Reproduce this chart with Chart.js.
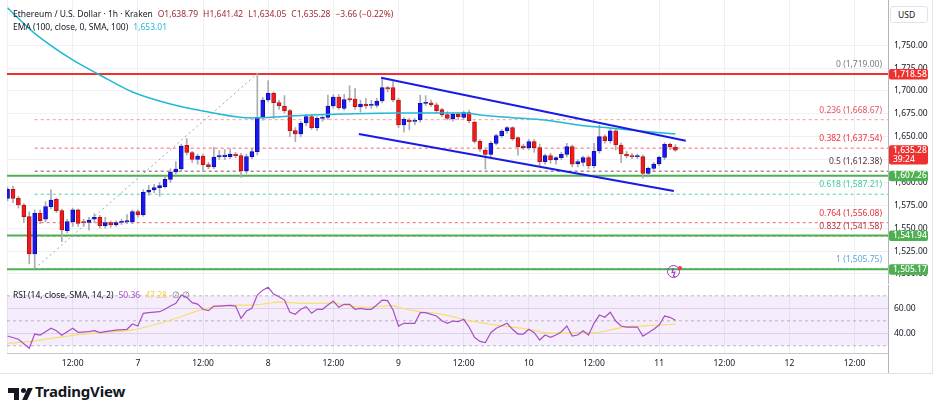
<!DOCTYPE html>
<html>
<head>
<meta charset="utf-8">
<script src="https://cdn.jsdelivr.net/npm/chart.js@4.4.0/dist/chart.umd.min.js"></script>
<style>
  body { margin: 0; background: #fff; width: 940px; height: 400px; overflow: hidden; font-family: "Noto Sans", sans-serif; }
  #wrap { position: relative; width: 940px; height: 400px; }
  canvas { position: absolute; left: 0; }
  #main { top: 0; }
  #rsi { top: 284px; }
  .lg { position: absolute; left: 13px; font-size: 8.5px; line-height: 12px; color: #131722; white-space: nowrap; }
  .lg span { margin-left: 5px; }
  .red { color: #a32a35; }
  #usd { position: absolute; left: 890px; top: 6px; width: 38px; height: 17px; box-sizing: border-box; border: 1px solid #e0e3eb; border-radius: 3px; font-size: 8.5px; line-height: 15px; padding-left: 7px; color: #131722; background: #fff; }
  #bolt { position: absolute; left: 667px; top: 265px; width: 11px; height: 11px; border: 1.3px solid #a23bc2; border-radius: 50%; color: #a23bc2; font-size: 9px; line-height: 11px; text-align: center; font-weight: 700; }
  #boltDot { position: absolute; left: 678px; top: 266px; width: 4px; height: 4px; border-radius: 50%; background: #f23645; }
  .frame { position: absolute; background: #e0e3eb; }
  #logo { position: absolute; left: 35px; top: 381px; font-size: 15px; font-weight: 700; color: #131722; letter-spacing: -0.2px; }
  .lp { position: absolute; background: #131722; }
</style>
</head>
<body>
<div id="wrap">
  <canvas id="main" width="940" height="284"></canvas>
  <canvas id="rsi" width="940" height="90"></canvas>
  <div id="head1" class="lg" style="top:8px"></div>
  <div id="head2" class="lg" style="top:21px"></div>
  <div id="head3" class="lg" style="top:289px"></div>
  <div id="usd">USD</div>
  <div id="bolt">ϟ</div>
  <div id="boltDot"></div>
  <div class="frame" style="left:888px;top:353px;width:1px;height:20px;background:#b2b5be"></div>
  <div class="frame" style="left:932px;top:0;width:1px;height:374px"></div>
  <div class="frame" style="left:0;top:373px;width:933px;height:1px"></div>
  <div class="lp" style="left:8px;top:388px;width:11px;height:5px"></div>
  <div class="lp" style="left:14px;top:388px;width:5px;height:12px"></div>
  <div class="lp" style="left:21px;top:388px;width:5px;height:5px;border-radius:50%"></div>
  <div class="lp" style="left:25px;top:388px;width:5px;height:12px;transform:skewX(-25deg)"></div>
  <div id="logo">TradingView</div>
</div>
<script>
// hourly candles, hour 0 = day 6 00:00
const opens = [
  1582.7, 1592.5, 1582.7, 1575.4, 1562.7, 1521.9, 1566.3, 1559.8, 1573.6, 1581.6,
  1569.2, 1547.4, 1557.2, 1570.0, 1556.5, 1556.5, 1559.8, 1561.9, 1552.8, 1556.1,
  1553.6, 1556.5, 1556.8, 1556.8, 1568.1, 1564.5, 1589.3, 1591.8, 1594.4, 1595.4,
  1603.5, 1611.5, 1614.8, 1640.6, 1632.6, 1625.3, 1628.9, 1619.5, 1617.0, 1627.9,
  1628.2, 1628.2, 1631.1, 1629.3, 1613.0, 1628.2, 1633.7, 1671.2, 1690.2, 1697.4,
  1687.3, 1683.6, 1678.5, 1656.7, 1653.0, 1665.0, 1672.0, 1660.0, 1670.0, 1671.0,
  1683.6, 1693.4, 1681.0, 1691.3, 1691.3, 1682.5, 1685.8, 1684.3, 1684.3, 1689.1,
  1703.6, 1703.6, 1690.2, 1662.8, 1668.3, 1666.8, 1668.3, 1686.5, 1687.2, 1685.0,
  1679.6, 1674.1, 1669.4, 1674.5, 1671.2, 1676.3, 1666.1, 1645.0, 1635.5, 1630.8,
  1642.8, 1651.2, 1656.3, 1659.9, 1649.0, 1639.9, 1638.1, 1644.6, 1638.1, 1622.8,
  1629.3, 1624.6, 1627.1, 1630.8, 1639.2, 1620.2, 1622.0, 1627.1, 1618.4, 1634.4,
  1650.1, 1645.7, 1656.6, 1641.0, 1631.1, 1629.3, 1628.2, 1628.2, 1610.0, 1615.5,
  1620.2, 1627.5, 1641.7, 1638.79
];
const highs = [
  1595.0, 1596.2, 1585.0, 1577.0, 1568.0, 1570.0, 1570.0, 1579.0, 1592.0, 1583.0,
  1571.0, 1560.0, 1572.0, 1571.0, 1560.0, 1562.0, 1566.0, 1564.0, 1562.0, 1558.0,
  1558.0, 1560.0, 1565.0, 1570.0, 1570.0, 1592.0, 1597.0, 1598.0, 1600.0, 1606.0,
  1615.0, 1622.8, 1642.0, 1648.0, 1634.0, 1631.0, 1631.0, 1622.0, 1638.4, 1635.0,
  1636.0, 1637.0, 1633.0, 1632.0, 1631.0, 1637.0, 1719.0, 1693.0, 1711.3, 1699.0,
  1690.0, 1695.0, 1680.0, 1660.0, 1667.0, 1674.5, 1674.0, 1672.0, 1673.0, 1695.6,
  1696.0, 1696.0, 1696.4, 1705.8, 1702.9, 1690.0, 1692.0, 1690.0, 1692.0, 1714.6,
  1705.0, 1710.2, 1692.0, 1671.0, 1670.0, 1670.0, 1695.6, 1694.9, 1690.2, 1687.0,
  1681.0, 1677.4, 1676.0, 1676.0, 1678.0, 1679.2, 1667.0, 1647.0, 1637.0, 1645.0,
  1653.0, 1658.0, 1661.0, 1661.0, 1650.0, 1642.0, 1647.0, 1647.0, 1642.0, 1631.0,
  1632.0, 1628.0, 1633.0, 1642.8, 1641.0, 1625.0, 1629.0, 1629.0, 1642.8, 1662.8,
  1652.0, 1659.2, 1659.0, 1643.0, 1634.0, 1632.0, 1631.0, 1630.0, 1617.0, 1622.0,
  1629.0, 1643.5, 1643.0, 1641.42
];
const lows = [
  1580.0, 1578.0, 1572.0, 1556.0, 1511.0, 1505.75, 1555.0, 1557.0, 1571.0, 1567.0,
  1535.3, 1545.0, 1552.0, 1552.0, 1552.0, 1548.0, 1556.0, 1550.0, 1550.0, 1551.0,
  1552.0, 1554.0, 1555.0, 1555.0, 1562.0, 1563.0, 1586.0, 1589.0, 1585.0, 1594.0,
  1600.0, 1609.0, 1612.0, 1630.0, 1622.0, 1620.0, 1612.0, 1615.0, 1615.0, 1625.0,
  1625.0, 1626.0, 1627.0, 1605.6, 1610.0, 1626.0, 1630.0, 1668.0, 1688.0, 1670.0,
  1680.0, 1676.0, 1650.0, 1644.6, 1650.0, 1662.0, 1658.0, 1657.0, 1667.0, 1669.0,
  1681.0, 1680.0, 1679.0, 1688.0, 1680.0, 1677.0, 1681.0, 1681.0, 1682.0, 1687.0,
  1699.0, 1688.0, 1660.0, 1655.0, 1657.4, 1663.0, 1666.0, 1684.0, 1683.0, 1676.0,
  1672.0, 1668.3, 1667.0, 1669.0, 1669.0, 1665.0, 1643.0, 1634.0, 1614.5, 1628.0,
  1641.0, 1649.0, 1654.0, 1646.0, 1630.0, 1636.0, 1636.0, 1633.0, 1618.0, 1620.0,
  1621.0, 1620.0, 1625.0, 1628.0, 1617.0, 1617.0, 1618.0, 1615.0, 1616.0, 1632.0,
  1643.0, 1643.0, 1635.5, 1621.6, 1627.0, 1626.0, 1626.0, 1604.6, 1606.0, 1613.0,
  1618.0, 1625.0, 1636.0, 1634.05
];
const closes = [
  1592.5, 1582.7, 1575.4, 1562.7, 1521.9, 1566.3, 1558.3, 1573.6, 1580.9, 1569.2,
  1548.1, 1557.2, 1570.0, 1555.4, 1556.2, 1559.0, 1561.9, 1552.8, 1556.1, 1553.6,
  1556.1, 1557.0, 1558.3, 1568.1, 1564.5, 1589.3, 1591.8, 1594.4, 1596.5, 1603.5,
  1611.5, 1614.8, 1639.9, 1633.0, 1625.3, 1628.9, 1619.5, 1617.3, 1627.9, 1629.3,
  1630.0, 1631.1, 1629.3, 1613.0, 1628.2, 1633.7, 1671.2, 1690.2, 1697.4, 1687.3,
  1683.6, 1678.5, 1656.7, 1653.0, 1664.7, 1672.0, 1660.0, 1670.1, 1671.0, 1683.6,
  1693.4, 1681.8, 1690.5, 1690.5, 1682.9, 1685.8, 1683.6, 1684.3, 1689.1, 1703.6,
  1702.2, 1690.2, 1662.8, 1669.0, 1666.5, 1667.5, 1686.5, 1687.2, 1685.1, 1678.5,
  1674.1, 1670.1, 1674.5, 1671.9, 1676.3, 1667.6, 1645.0, 1636.3, 1630.8, 1642.8,
  1651.2, 1656.3, 1659.9, 1647.5, 1638.8, 1638.1, 1644.6, 1638.1, 1622.8, 1629.3,
  1624.6, 1627.1, 1630.8, 1639.2, 1619.9, 1622.8, 1627.1, 1618.4, 1634.4, 1650.1,
  1645.7, 1656.6, 1641.0, 1631.1, 1629.0, 1628.2, 1629.3, 1610.0, 1615.5, 1620.2,
  1627.5, 1641.7, 1638.94, 1635.28
];

// EMA(100)
const emaHours = [0, 1, 5, 12, 17, 23, 30, 37, 45, 48, 50, 56, 62, 72, 84, 87, 93, 99, 105, 111, 118, 123];
const emaValues = [1791, 1785, 1763, 1733.9, 1717.5, 1698.9, 1685.8, 1677.0, 1670.5, 1671.0, 1671.9,
  1673.8, 1674.9, 1676.0, 1676.0, 1673.8, 1670.8, 1668.3, 1662.8, 1659.6, 1655.5, 1653.01];

// RSI(14) and its SMA(14)
const rsiHours = [0, 2, 4, 5, 6, 7, 8, 9, 10, 11, 12, 13, 15, 16, 17, 18, 20, 22, 23, 24, 25, 26, 28, 29, 30,
  31, 32, 33, 34, 35, 36, 37, 38, 39, 41, 42, 43, 44, 45, 46, 47, 48, 49, 50, 51, 52, 53, 54, 55, 56,
  57, 58, 59, 60, 61, 62, 63, 64, 65, 66, 67, 68, 69, 70, 71, 72, 73, 75, 76, 77, 79, 80, 81, 82, 83,
  84, 85, 86, 87, 88, 89, 90, 92, 93, 94, 95, 96, 97, 98, 99, 100, 101, 102, 103, 104, 105, 106, 107,
  108, 109, 110, 111, 112, 113, 114, 116, 117, 118, 119, 120, 121, 122, 123];
const rsiValues = [37.8, 35.2, 28.0, 39.4, 38.6, 41.3, 44.0, 42.1, 38.4, 41.3, 44.0, 40.8, 41.3, 42.1,
  40.5, 41.3, 42.6, 43.2, 47.4, 45.8, 56.0, 56.5, 57.3, 59.2, 61.8, 64.0, 70.6, 68.8, 64.5, 63.4, 59.2,
  58.1, 61.8, 61.8, 62.4, 61.8, 52.0, 57.8, 60.0, 70.6, 74.5, 76.8, 71.4, 69.3, 66.6, 56.8, 55.2, 59.2,
  61.3, 56.0, 59.2, 59.2, 62.6, 65.8, 60.8, 63.2, 63.2, 59.2, 60.0, 59.2, 59.2, 62.6, 66.6, 66.1, 58.6,
  45.8, 48.0, 48.0, 56.5, 56.5, 53.8, 50.1, 48.0, 49.8, 49.3, 51.2, 45.0, 36.8, 33.5, 32.5, 40.5, 44.0,
  48.0, 43.2, 39.4, 39.4, 43.2, 40.5, 34.6, 38.6, 36.8, 38.6, 41.3, 45.8, 37.8, 38.6, 42.1, 38.6, 48.0,
  54.6, 52.8, 56.8, 49.8, 45.8, 45.0, 45.0, 37.8, 40.5, 43.2, 46.6, 53.8, 52.8, 50.36];
const smaHours = [0, 4, 8, 11, 17, 23, 28, 31, 36, 39, 42, 45, 48, 50, 54, 60, 63, 66, 71, 72, 76, 79,
  82, 85, 90, 96, 99, 102, 105, 108, 111, 114, 117, 120, 123];
const smaValues = [32.0, 33.3, 36.0, 37.8, 40.5, 42.6, 48.0, 52.0, 59.2, 61.8, 62.6, 62.6, 64.0, 65.0,
  64.0, 64.0, 61.8, 60.8, 62.1, 60.8, 57.3, 56.0, 53.3, 50.1, 46.6, 43.2, 40.5, 40.0, 40.8, 40.5, 42.6,
  45.3, 45.8, 46.6, 47.28];

// drawings
const fibRatios = [0, 0.236, 0.382, 0.5, 0.618, 0.764, 0.832, 1];
const fibPrices = [1719.00, 1668.67, 1637.54, 1612.38, 1587.21, 1556.08, 1541.58, 1505.75];
const fibStartHour = 5;
const srPrices = [1718.58, 1607.26, 1541.94, 1505.17];
const trendHours = [5, 46];
const trendPrices = [1505.75, 1719.0];
const upperHours = [68.8, 124.9];
const upperPrices = [1714.5, 1645.7];
const lowerHours = [64.7, 122.7];
const lowerPrices = [1653.0, 1590.7];
const countdown = '39:24';

// axes
const priceTicks = [1500, 1525, 1550, 1575, 1600, 1625, 1650, 1675, 1700, 1725, 1750];
const rsiTicks = [40, 60];
const rsiBands = [70, 50, 30];
const tickHours = [0, 12, 24, 36, 48, 60, 72, 84, 96, 108, 120, 132, 144, 156];
const tickLabels = ['', '12:00', '7', '12:00', '8', '12:00', '9', '12:00', '10', '12:00', '11', '12:00', '12', '12:00'];

const FONT = '"Noto Sans", sans-serif';
Chart.defaults.font.family = FONT;
Chart.defaults.font.size = 8.5;
Chart.defaults.color = '#131722';

const X_MIN = -0.1, X_MAX = 162.15;
const Y_MIN = 1489.07, Y_MAX = 1799.45;
const R_MIN = 24.24, R_MAX = 78.64;
const RED = '#f0302f', GREEN = '#4caf50', GRID = '#eef0f4';
const fibLineColors = ['#9598a1', '#f59aa0', '#f4646c', '#7a4a5c', '#4fd1a8', '#f0636b', '#d04a58', '#70b8e8'];
const fibTextColors = ['#787b86', '#e8505b', '#ef2f3c', '#5a2f45', '#3cc99a', '#e0303a', '#b8323f', '#5aa8dc'];
const srColors = [RED, GREEN, GREEN, GREEN];

const fmt = v => v.toLocaleString('en-US', { minimumFractionDigits: 2, maximumFractionDigits: 2 });
const pts = (xs, ys) => xs.map((x, i) => ({ x, y: ys[i] }));
const flat = (x0, y) => [{ x: x0, y }, { x: X_MAX, y }];

function lineSet(data, color, width, dash, order, extra) {
  return Object.assign({
    type: 'line', data, borderColor: color, borderWidth: width, borderDash: dash || [],
    pointRadius: 0, fill: false, tension: 0, order
  }, extra || {});
}

// fixed sizes so both panes line up with the reference
function noPad(s) {
  s.paddingTop = 0; s.paddingBottom = 0; s.paddingLeft = 0; s.paddingRight = 0;
}

const hours = opens.map((_, i) => i);
const up = hours.map(i => closes[i] >= opens[i]);
const last = opens.length - 1;

const xScale = (showLabels, height) => ({
  type: 'linear', min: X_MIN, max: X_MAX, offset: false,
  afterBuildTicks: s => { s.ticks = tickHours.map(v => ({ value: v })); },
  afterFit: s => { s.height = height; noPad(s); },
  ticks: {
    display: showLabels, padding: 5, maxRotation: 0, autoSkip: false,
    callback: v => tickLabels[tickHours.indexOf(v)]
  },
  grid: { color: GRID, drawTicks: false, offset: false },
  border: { display: true, color: showLabels ? '#c5c8cf' : '#dfe1e6' }
});

const yScale = (min, max, ticks, label, gridColor) => ({
  position: 'right', min, max,
  afterBuildTicks: s => { s.ticks = ticks.map(v => ({ value: v })); },
  afterFit: s => { s.width = 52; noPad(s); },
  ticks: { padding: 6, callback: label },
  grid: { color: gridColor, drawTicks: false },
  border: { display: true, color: '#b2b5be' }
});

function drawTag(ctx, x, top, w, h, color, lines) {
  ctx.fillStyle = color;
  ctx.beginPath();
  ctx.roundRect(x, top, w, h, 2);
  ctx.fill();
  ctx.fillStyle = '#fff';
  ctx.textAlign = 'left';
  ctx.textBaseline = 'middle';
  lines.forEach((t, i) => ctx.fillText(t, x + 4, top + 5.2 + i * 9.5));
}

const levelLabels = {
  id: 'levelLabels',
  afterDatasetsDraw(chart) {
    const { ctx, chartArea, scales: { y } } = chart;
    ctx.save();
    ctx.font = `8.5px ${FONT}`;
    ctx.textAlign = 'right';
    ctx.textBaseline = 'middle';
    fibRatios.forEach((r, i) => {
      ctx.fillStyle = fibTextColors[i];
      ctx.fillText(`${r} (${fmt(fibPrices[i])})`, chartArea.right - 6, y.getPixelForValue(fibPrices[i]) - 9.5);
    });
    ctx.restore();
  },
  afterDraw(chart) {
    const { ctx, chartArea, scales: { y } } = chart;
    const x = chartArea.right + 1;
    ctx.save();
    ctx.font = `500 8.5px ${FONT}`;
    srPrices.forEach((p, i) => {
      const yc = y.getPixelForValue(p);
      drawTag(ctx, x, yc - 5, 39, 10.4, srColors[i], [fmt(p)]);
    });
    const yc = y.getPixelForValue(closes[last]);
    drawTag(ctx, x, yc - 5, 39, 19.4, RED, [fmt(closes[last]), countdown]);
    ctx.restore();
  }
};

new Chart(document.getElementById('main'), {
  type: 'bar',
  data: {
    datasets: [
      {
        type: 'bar', data: hours.map(i => ({ x: i, y: [opens[i], closes[i]] })),
        backgroundColor: up.map(u => u ? '#1717f2' : '#f01a1a'),
        borderColor: up.map(u => u ? '#0b0ba0' : '#a81010'),
        borderWidth: 0.8, borderSkipped: false, barThickness: 4, grouped: false, minBarLength: 1, order: 2
      },
      {
        type: 'bar', data: hours.map(i => ({ x: i, y: [lows[i], highs[i]] })),
        backgroundColor: '#a9acb3', barThickness: 1, grouped: false, order: 3
      },
      lineSet(pts(emaHours, emaValues), '#22b8d6', 1.5, [], 1, { cubicInterpolationMode: 'monotone' }),
      ...fibPrices.map((p, i) => lineSet(flat(fibStartHour, p), fibLineColors[i], 1, [3, 3], 7)),
      ...srPrices.map((p, i) => lineSet(flat(X_MIN, p), srColors[i], 2, [], 6)),
      lineSet(pts(trendHours, trendPrices), '#a0a3ab', 1, [2, 3], 5),
      lineSet(pts(upperHours, upperPrices), '#1a1ae6', 2, [], 0),
      lineSet(pts(lowerHours, lowerPrices), '#1a1ae6', 2, [], 0)
    ]
  },
  options: {
    responsive: false, animation: false,
    layout: { padding: { left: 7, right: 0, top: 0, bottom: 0 } },
    plugins: { legend: { display: false }, tooltip: { enabled: false } },
    scales: {
      x: xScale(false, 0),
      y: yScale(Y_MIN, Y_MAX, priceTicks, v => fmt(v), GRID)
    }
  },
  plugins: [levelLabels]
});

new Chart(document.getElementById('rsi'), {
  type: 'line',
  data: {
    datasets: [
      lineSet(flat(X_MIN, rsiBands[0]), 'rgba(120,123,134,0.5)', 1, [3, 3], 4,
        { fill: { value: rsiBands[2] }, backgroundColor: 'rgba(160,90,230,0.11)' }),
      lineSet(flat(X_MIN, rsiBands[1]), 'rgba(120,123,134,0.5)', 1, [3, 3], 4),
      lineSet(flat(X_MIN, rsiBands[2]), 'rgba(120,123,134,0.5)', 1, [3, 3], 4),
      lineSet(pts(smaHours, smaValues), '#f7df6e', 1.2, [], 1, { cubicInterpolationMode: 'monotone' }),
      lineSet(pts(rsiHours, rsiValues), '#a84fc4', 1.2, [], 0)
    ]
  },
  options: {
    responsive: false, animation: false,
    layout: { padding: { left: 7, right: 0, top: 1, bottom: 0 } },
    plugins: { legend: { display: false }, tooltip: { enabled: false } },
    scales: {
      x: xScale(true, 21),
      y: yScale(R_MIN, R_MAX, rsiTicks, v => v.toFixed(2), '#e6dfee')
    }
  }
});

// legends
const chg = closes[last] - closes[last - 1];
const sign = chg < 0 ? '−' : '+';
const pct = Math.abs(chg / closes[last - 1] * 100).toFixed(2);
document.getElementById('head1').innerHTML =
  'Ethereum / U.S. Dollar · 1h · Kraken' +
  `<span class="red">O${fmt(opens[last])}</span>` +
  `<span class="red">H${fmt(highs[last])}</span>` +
  `<span class="red">L${fmt(lows[last])}</span>` +
  `<span class="red">C${fmt(closes[last])}</span>` +
  `<span class="red">${sign}${fmt(Math.abs(chg))} (${sign}${pct}%)</span>`;
document.getElementById('head2').innerHTML =
  `EMA (100, close, 0, SMA, 100)<span style="color:#22b8d6">${fmt(emaValues[emaValues.length - 1])}</span>`;
document.getElementById('head3').innerHTML =
  `RSI (14, close, SMA, 14, 2)<span style="color:#a84fc4">${rsiValues[rsiValues.length - 1].toFixed(2)}</span>` +
  `<span style="color:#f2d44a">${smaValues[smaValues.length - 1].toFixed(2)}</span>` +
  '<span style="color:#787b86">∅ ∅</span>';
</script>
</body>
</html>
